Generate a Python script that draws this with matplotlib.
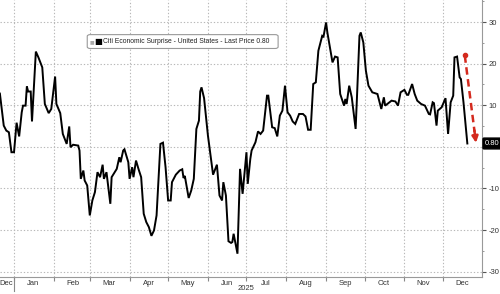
import numpy as np
import pandas as pd
import matplotlib
matplotlib.use("Agg")
import matplotlib.pyplot as plt
import matplotlib.dates as mdates
from matplotlib.patches import FancyBboxPatch
from matplotlib.ticker import MultipleLocator

# Citi Economic Surprise Index - United States
dates = [
    "2024-12-21", "2024-12-24", "2024-12-26", "2024-12-28", "2024-12-30", "2025-01-01",
    "2025-01-03", "2025-01-05", "2025-01-07", "2025-01-08", "2025-01-10", "2025-01-11",
    "2025-01-12", "2025-01-14", "2025-01-15", "2025-01-18", "2025-01-20", "2025-01-23",
    "2025-01-25", "2025-01-28", "2025-01-30", "2025-02-02", "2025-02-03", "2025-02-06",
    "2025-02-08", "2025-02-11", "2025-02-13", "2025-02-14", "2025-02-16", "2025-02-20",
    "2025-02-21", "2025-02-22", "2025-02-24", "2025-02-25", "2025-02-27", "2025-03-01",
    "2025-03-03", "2025-03-05", "2025-03-07", "2025-03-09", "2025-03-11", "2025-03-12",
    "2025-03-14", "2025-03-17", "2025-03-18", "2025-03-22", "2025-03-24", "2025-03-25",
    "2025-03-27", "2025-03-28", "2025-03-31", "2025-04-01", "2025-04-03", "2025-04-04",
    "2025-04-06", "2025-04-08", "2025-04-10", "2025-04-12", "2025-04-14", "2025-04-16",
    "2025-04-18", "2025-04-20", "2025-04-22", "2025-04-25", "2025-04-27", "2025-04-29",
    "2025-05-01", "2025-05-03", "2025-05-04", "2025-05-07", "2025-05-10", "2025-05-12",
    "2025-05-13", "2025-05-14", "2025-05-17", "2025-05-19", "2025-05-21", "2025-05-23",
    "2025-05-25", "2025-05-26", "2025-05-27", "2025-05-29", "2025-06-01", "2025-06-05",
    "2025-06-08", "2025-06-10", "2025-06-12", "2025-06-13", "2025-06-15", "2025-06-17",
    "2025-06-19", "2025-06-20", "2025-06-21", "2025-06-23", "2025-06-24", "2025-06-26",
    "2025-06-28", "2025-07-01", "2025-07-02", "2025-07-04", "2025-07-05", "2025-07-08",
    "2025-07-10", "2025-07-12", "2025-07-14", "2025-07-17", "2025-07-18", "2025-07-21",
    "2025-07-23", "2025-07-25", "2025-07-27", "2025-07-29", "2025-07-31", "2025-08-02",
    "2025-08-04", "2025-08-06", "2025-08-08", "2025-08-11", "2025-08-14", "2025-08-16",
    "2025-08-18", "2025-08-20", "2025-08-22", "2025-08-24", "2025-08-26", "2025-08-29",
    "2025-08-30", "2025-09-01", "2025-09-02", "2025-09-06", "2025-09-08", "2025-09-10",
    "2025-09-12", "2025-09-15", "2025-09-16", "2025-09-17", "2025-09-19", "2025-09-21",
    "2025-09-24", "2025-09-25", "2025-09-27", "2025-09-28", "2025-09-30", "2025-10-02",
    "2025-10-04", "2025-10-07", "2025-10-11", "2025-10-14", "2025-10-16", "2025-10-17",
    "2025-10-22", "2025-10-25", "2025-10-27", "2025-10-29", "2025-11-01", "2025-11-03",
    "2025-11-04", "2025-11-07", "2025-11-09", "2025-11-11", "2025-11-14", "2025-11-17",
    "2025-11-20", "2025-11-21", "2025-11-23", "2025-11-24", "2025-11-26", "2025-11-27",
    "2025-11-30", "2025-12-03", "2025-12-05", "2025-12-07", "2025-12-09", "2025-12-10",
    "2025-12-12", "2025-12-14", "2025-12-15", "2025-12-17", "2025-12-20",
]
values = [
    12.8, 5.1, 3.9, 3.5, -1.3, -1.3,
    5.8, 2.5, 8.3, 9.9, 9.9, 14.5,
    13.3, 13.3, 6.1, 22.9, 21.5, 19.1,
    10.3, 8.1, 9.1, 16.9, 10.3, 8.1,
    3.1, 0.7, 4.9, -0.1, 0.5, 0.3,
    -0.9, -7.7, -5.7, -8.1, -9.3, -16.5,
    -12.9, -10.9, -6.1, -7.3, -4.3, -7.7,
    -6.1, -13.7, -7.3, -5.3, -2.5, -3.7,
    -0.9, -0.6, -3.7, -7.7, -4.9, -7.3,
    -3.3, -5.4, -7.3, -16.1, -18.1, -19.3,
    -21.4, -20.1, -16.5, 0.7, 1.0, -4.9,
    -12.9, -12.9, -8.5, -6.7, -5.7, -5.4,
    -7.5, -7.0, -12.3, -10.5, -7.7, 4.3,
    6.3, 13.3, 14.3, 11.7, 2.7, -6.7,
    -4.3, -11.7, -12.9, -8.5, -11.7, -22.7,
    -23.1, -22.9, -20.9, -24.1, -25.7, -5.3,
    -11.3, -1.3, -8.9, -2.9, -0.9, 1.1,
    3.7, 3.1, 3.9, 12.3, 12.3, 4.7,
    4.5, 2.5, 7.5, 8.7, 14.7, 8.3,
    7.5, 6.1, 5.5, 7.9, 7.9, 7.3,
    4.1, 4.1, 15.1, 15.5, 23.1, 26.7,
    26.5, 29.9, 27.5, 20.3, 21.7, 21.5,
    12.7, 9.9, 11.5, 10.3, 14.7, 11.9,
    4.3, 11.5, 26.7, 27.5, 25.1, 18.3,
    14.7, 13.1, 12.7, 9.1, 11.9, 9.9,
    11.1, 10.9, 9.9, 13.1, 13.7, 12.5,
    12.5, 15.1, 12.7, 11.1, 10.3, 9.9,
    7.9, 7.8, 10.7, 10.5, 5.1, 8.7,
    9.5, 11.7, 3.1, 10.7, 12.3, 21.5,
    21.7, 16.7, 16.3, 10.7, 0.8,
]
month_labels = ["Dec", "Jan", "Feb", "Mar", "Apr", "May", "Jun",
                "Jul", "Aug", "Sep", "Oct", "Nov", "Dec"]
yticks = [30, 20, 10, -10, -20, -30]
last_price = 0.80
legend_text = "Citi Economic Surprise - United States - Last Price 0.80"

dt = pd.to_datetime(dates)
fonts = ["Liberation Sans", "DejaVu Sans"]

fig = plt.figure(figsize=(5, 2.94), dpi=100)
ax = fig.add_axes([0, 0.0578, 0.964, 0.9422])

ax.plot(dt, values, color="black", lw=1.4, solid_joinstyle="miter")

ax.set_xlim(mdates.date2num(pd.Timestamp("2024-12-21 02:00")),
            mdates.date2num(pd.Timestamp("2025-12-31 10:00")))
ax.set_ylim(-31.3, 35.3)

# grid + ticks
grid_col = "#b8b8b8"
month_starts = pd.date_range("2025-01-01", "2025-12-01", freq="MS")
ax.set_xticks(month_starts)
ax.set_xticklabels([])
mid_months = [pd.Timestamp("2024-12-26")] + list(month_starts + pd.Timedelta(days=15))
ax.set_xticks(mid_months, minor=True)
ax.set_xticklabels(month_labels, minor=True)
ax.tick_params(axis="x", which="major", length=3, color="#888888", direction="out")
ax.tick_params(axis="x", which="minor", length=0, pad=2, labelsize=5.5, labelcolor="#333333")
for t in ax.get_xticklabels(minor=True):
    t.set_family(fonts)

ax.yaxis.tick_right()
ax.set_yticks(yticks)
ax.set_yticklabels([str(v) for v in yticks], family=fonts)
ax.yaxis.set_minor_locator(MultipleLocator(5))
ax.tick_params(axis="y", which="major", length=3, pad=1.5, labelsize=5.5,
               labelcolor="#333333", color="#555555")
ax.tick_params(axis="y", which="minor", length=1.5, color="#888888")

ax.grid(True, which="major", axis="x", color=grid_col, ls=(0, (1.2, 1.8)), lw=0.8)
for v in [30, 20, 10, 0, -10, -20, -30]:
    ax.axhline(v, color=grid_col, ls=(0, (1.2, 1.8)), lw=0.8, zorder=0)

for s in ["top", "left"]:
    ax.spines[s].set_visible(False)
ax.spines["bottom"].set_color("#999999")
ax.spines["right"].set_color("#999999")

# year separator and year label
xform = ax.get_xaxis_transform()
ax.plot([pd.Timestamp("2025-01-01")] * 2, [0, -0.05], transform=xform,
        color="#888888", lw=0.8, clip_on=False)
ax.text(pd.Timestamp("2025-07-01"), -0.04, "2025", transform=xform,
        ha="center", va="center", fontsize=5.5, color="#333333", family=fonts)

# legend box
box = FancyBboxPatch((0.181, 0.825), 0.396, 0.05, transform=ax.transAxes,
                     boxstyle="round,pad=0,rounding_size=0.006",
                     fc="white", ec="#999999", lw=0.8, zorder=4)
ax.add_patch(box)
ax.text(0.186, 0.849, "\u25a0", transform=ax.transAxes, fontsize=3.5,
        color="#aaaaaa", va="center", ha="left", zorder=5)
ax.text(0.195, 0.849, "\u25a0", transform=ax.transAxes, fontsize=6,
        color="black", va="center", ha="left", zorder=5)
ax.text(0.213, 0.849, legend_text, transform=ax.transAxes,
        fontsize=4.9, color="#222222", va="center", ha="left", family=fonts, zorder=5)

# last price tag
ax.text(1.006, last_price, "%.2f" % last_price, transform=ax.get_yaxis_transform(),
        fontsize=5.5, color="white", va="center", ha="left", family=fonts,
        bbox=dict(boxstyle="round,pad=0.25,rounding_size=0.15", fc="black", ec="black"),
        clip_on=False)

# red dashed arrow
red = "#d42a1e"
x0, y0 = mdates.date2num(pd.Timestamp("2025-12-18")), 22.0
x1, y1 = mdates.date2num(pd.Timestamp("2025-12-27")), 0.3
ax.plot([x0], [y0], "o", color=red, ms=3)
ax.plot([x0, x0 + (x1 - x0) * 0.85], [y0, y0 + (y1 - y0) * 0.85],
        color=red, lw=1.8, ls=(0, (3, 1.8)))
ax.annotate("", xy=(x1, y1), xytext=(x0 + (x1 - x0) * 0.8, y0 + (y1 - y0) * 0.8),
            arrowprops=dict(arrowstyle="-|>", color=red, lw=1.8, mutation_scale=9))

fig.savefig("out.png", dpi=100)
